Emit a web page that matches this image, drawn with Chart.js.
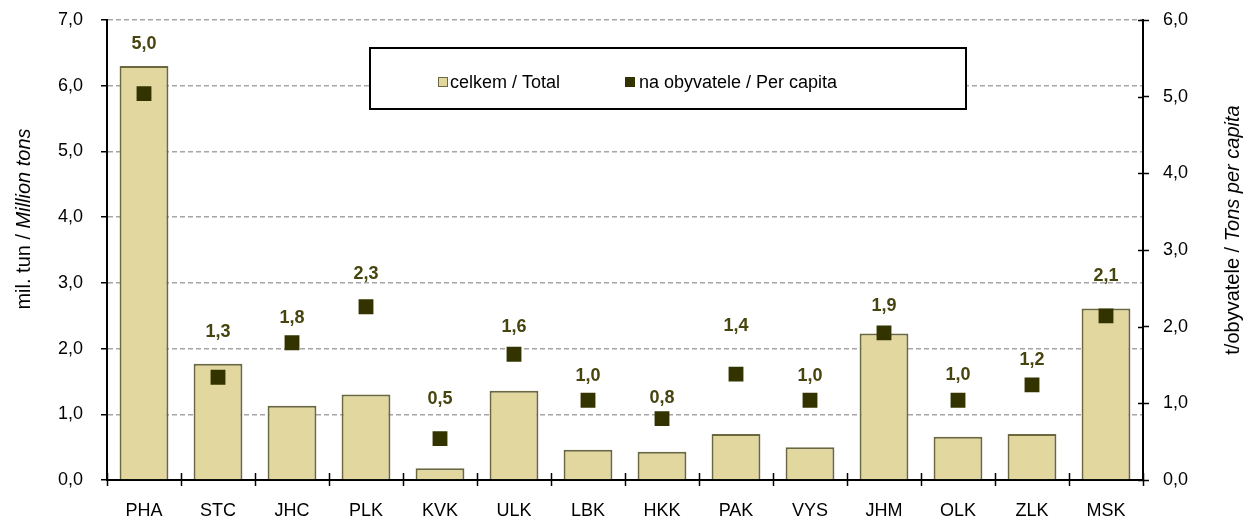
<!DOCTYPE html>
<html>
<head>
<meta charset="utf-8">
<script src="https://cdn.jsdelivr.net/npm/chart.js@4"></script>
<style>
  body { margin: 0; background: #fff; }
  #wrap { width: 1247px; height: 523px; }
</style>
</head>
<body>
<div id="wrap"><canvas id="chart" width="1247" height="523"></canvas></div>
<script>
// --- DATA ---
const regions = ["PHA", "STC", "JHC", "PLK", "KVK", "ULK", "LBK", "HKK", "PAK", "VYS", "JHM", "OLK", "ZLK", "MSK"];
const totalMilTons = [6.30, 1.77, 1.13, 1.30, 0.18, 1.36, 0.46, 0.43, 0.70, 0.50, 2.23, 0.66, 0.70, 2.61];
const perCapita = [5.04, 1.34, 1.79, 2.26, 0.54, 1.64, 1.04, 0.80, 1.38, 1.04, 1.92, 1.04, 1.24, 2.14];
const leftTicks = [0, 1, 2, 3, 4, 5, 6, 7];
const rightTicks = [0, 1, 2, 3, 4, 5, 6];

// --- STYLE ---
const FONT = "'Liberation Sans', Arial, sans-serif";
const barFill = "#e1d79f";
const barEdge = "#6b6840";
const markColor = "#333300";
const labelColor = "#47450f";
// how far each value label sits above its marker (labels were hand-placed in the original)
const labelGap = [50, 45, 25, 33, 40, 27, 24, 21, 48, 24, 27, 25, 25, 40];

const fmt = v => v.toFixed(1).replace(".", ",");

// keep label overhang from shrinking the plot area
const noPad = s => { s.paddingTop = 0; s.paddingBottom = 0; };

// --- PLUGINS ---
const extras = {
    id: "extras",
    afterDatasetsDraw(chart) {
        const ctx = chart.ctx;
        const meta = chart.getDatasetMeta(1);
        ctx.save();
        ctx.font = "bold 18px " + FONT;
        ctx.fillStyle = labelColor;
        ctx.textAlign = "center";
        ctx.textBaseline = "middle";
        meta.data.forEach((pt, i) => {
            ctx.fillText(fmt(perCapita[i]), pt.x, pt.y - labelGap[i]);
        });
        ctx.restore();
    },
    afterDraw(chart) {
        const ctx = chart.ctx;
        const area = chart.chartArea;
        ctx.save();

        // x-axis tick marks cross the axis line
        ctx.strokeStyle = "#000";
        ctx.lineWidth = 1.5;
        ctx.beginPath();
        for (let i = 0; i <= regions.length; i++) {
            const x = Math.round(area.left + (area.right - area.left) * i / regions.length) + 0.5;
            ctx.moveTo(x, area.bottom - 7);
            ctx.lineTo(x, area.bottom);
        }
        // right axis ticks cross too
        const ry = chart.scales.y1;
        rightTicks.forEach(v => {
            const y = Math.round(ry.getPixelForValue(v)) + 0.5;
            ctx.moveTo(area.right - 5, y);
            ctx.lineTo(area.right, y);
        });
        ctx.stroke();

        // legend box
        ctx.fillStyle = "#fff";
        ctx.fillRect(370, 48, 596, 61);
        ctx.strokeStyle = "#000";
        ctx.lineWidth = 2;
        ctx.strokeRect(370, 48, 596, 61);

        ctx.fillStyle = barFill;
        ctx.fillRect(438.5, 77.5, 9, 9);
        ctx.strokeStyle = barEdge;
        ctx.lineWidth = 1;
        ctx.strokeRect(438.5, 77.5, 9, 9);
        ctx.fillStyle = markColor;
        ctx.fillRect(625, 77, 10, 10);

        ctx.font = "18px " + FONT;
        ctx.fillStyle = "#000";
        ctx.textBaseline = "middle";
        ctx.textAlign = "left";
        ctx.fillText("celkem / Total", 450, 83);
        ctx.fillText("na obyvatele / Per capita", 639, 83);

        // axis titles (mixed upright / italic)
        const title = (x, y, a, b) => {
            ctx.save();
            ctx.translate(x, y);
            ctx.rotate(-Math.PI / 2);
            ctx.textBaseline = "middle";
            ctx.font = "20px " + FONT;
            const w1 = ctx.measureText(a).width;
            ctx.font = "italic 20px " + FONT;
            const w2 = ctx.measureText(b).width;
            const sx = -(w1 + w2) / 2;
            ctx.textAlign = "left";
            ctx.font = "20px " + FONT;
            ctx.fillText(a, sx, 0);
            ctx.font = "italic 20px " + FONT;
            ctx.fillText(b, sx + w1, 0);
            ctx.restore();
        };
        title(24, 219, "mil. tun / ", "Million tons");
        title(1233, 230, "t/obyvatele / ", "Tons per capita");

        ctx.restore();
    }
};

// --- CHART ---
new Chart(document.getElementById("chart"), {
    data: {
        labels: regions,
        datasets: [
            {
                type: "bar",
                label: "celkem / Total",
                data: totalMilTons,
                yAxisID: "y",
                backgroundColor: barFill,
                borderColor: barEdge,
                borderWidth: 2,
                barPercentage: 0.66,
                categoryPercentage: 1,
                order: 2
            },
            {
                type: "line",
                label: "na obyvatele / Per capita",
                data: perCapita,
                yAxisID: "y1",
                showLine: false,
                pointStyle: "rect",
                pointRadius: 10.5,
                pointBackgroundColor: markColor,
                pointBorderColor: markColor,
                pointBorderWidth: 0,
                order: 1
            }
        ]
    },
    options: {
        responsive: false,
        animation: false,
        layout: { padding: { top: 20, left: 0, right: 0, bottom: 0 } },
        plugins: {
            legend: { display: false },
            tooltip: { enabled: false }
        },
        scales: {
            x: {
                offset: true,
                grid: { offset: true, drawOnChartArea: false, tickLength: 6, tickColor: "#000", tickWidth: 1.5 },
                border: { display: true, color: "#000", width: 2 },
                ticks: { color: "#000", font: { family: FONT, size: 18 }, padding: 14, maxRotation: 0 },
                afterFit: s => { s.height = 43; s.paddingLeft = 0; s.paddingRight = 0; }
            },
            y: {
                position: "left",
                min: 0,
                max: 7,
                afterBuildTicks: s => { s.ticks = leftTicks.map(v => ({ value: v })); },
                grid: { color: "#a6a6a6", lineWidth: 1.5, tickLength: 6, tickColor: "#000", tickWidth: 1.5 },
                border: { display: true, color: "#000", width: 2, dash: [5, 3] },
                ticks: { color: "#000", font: { family: FONT, size: 18 }, padding: 18, callback: v => fmt(v) },
                afterFit: s => { s.width = 107; noPad(s); }
            },
            y1: {
                position: "right",
                min: 0,
                max: 6,
                afterBuildTicks: s => { s.ticks = rightTicks.map(v => ({ value: v })); },
                grid: { drawOnChartArea: false, tickLength: 6, tickColor: "#000", tickWidth: 1.5 },
                border: { display: true, color: "#000", width: 2 },
                ticks: { color: "#000", font: { family: FONT, size: 18 }, padding: 14, callback: v => fmt(v) },
                afterFit: s => { s.width = 104; noPad(s); }
            }
        }
    },
    plugins: [extras]
});
</script>
</body>
</html>
